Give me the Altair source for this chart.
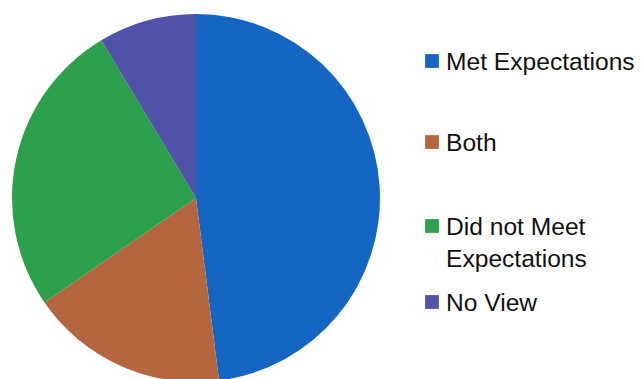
import altair as alt
import pandas as pd

categories = ["Met Expectations", "Both", "Did not Meet Expectations", "No View"]
legend_labels = ["Met Expectations", "Both", "Did not Meet\nExpectations", "No View"]
values = [48.0, 17.4, 26.0, 8.6]
colors = ["#1466C2", "#B4663F", "#2CA04A", "#5053A8"]

df = pd.DataFrame({
    "category": categories,
    "label": legend_labels,
    "value": values,
    "order": list(range(len(categories))),
})

color_scale = alt.Scale(domain=categories, range=colors)

pie = alt.Chart(df).mark_arc(radius=184, stroke=None).encode(
    theta=alt.Theta("value:Q", stack=True),
    order=alt.Order("order:Q"),
    color=alt.Color("category:N", scale=color_scale, legend=None),
    x=alt.value(196),
    y=alt.value(198),
)

# legend rows placed by a piecewise scale over the row index
row_scale = alt.Scale(type="linear", domain=[0, 1, 2, 3], range=[61, 142, 226, 302], nice=False, zero=False)

leg_sq = alt.Chart(df).mark_square(size=190, opacity=1, filled=True).encode(
    x=alt.value(432),
    y=alt.Y("order:Q", scale=row_scale, axis=None),
    color=alt.Color("category:N", scale=color_scale, legend=None),
)

leg_txt = alt.Chart(df).mark_text(
    align="left", baseline="alphabetic", dy=8.7, fontSize=24.6,
    font="Liberation Sans", color="#111111", lineBreak="\n", lineHeight=32,
).encode(
    x=alt.value(446),
    y=alt.Y("order:Q", scale=row_scale, axis=None),
    text="label:N",
)

chart = alt.layer(pie, leg_sq, leg_txt).properties(
    width=642, height=379, padding=0,
    autosize=alt.AutoSizeParams(type="none"),
    background="white",
).configure_view(stroke=None)

chart.save("out.html", embed_options={"renderer": "svg", "actions": False})
